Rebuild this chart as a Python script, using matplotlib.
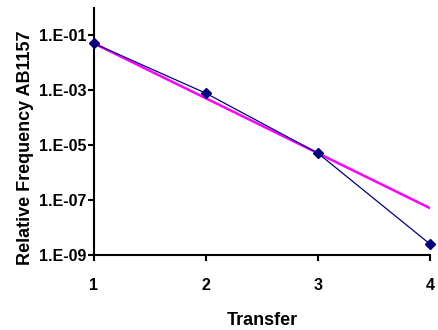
import math
import matplotlib
matplotlib.use("Agg")
import matplotlib.pyplot as plt
from matplotlib.ticker import FixedLocator, FuncFormatter

plt.rcParams['font.family'] = ['Liberation Sans', 'DejaVu Sans']

transfer = [1, 2, 3, 4]
freq = [5.1e-2, 7.8e-4, 5.1e-6, 2.5e-9]
# exponential trendline, end points
trend_x = [1, 4]
trend_y = [5.1e-2, 5.1e-8]
yticks = [1e-9, 1e-7, 1e-5, 1e-3, 1e-1]

fig = plt.figure(figsize=(4.38, 3.30), dpi=100)
ax = fig.add_axes([0.2146, 0.2273, 0.7671, 0.7485])

ax.plot(transfer, freq, color='#000080', lw=0.9, marker='D', ms=5.5,
        mfc='#000080', mec='#000080', zorder=3, clip_on=False)
ax.plot(trend_x, trend_y, color='#FF00FF', lw=1.8, zorder=2)

ax.set_yscale('log')
ax.set_xlim(1, 4)
ax.set_ylim(1e-9, 1e0)
ax.yaxis.set_major_locator(FixedLocator(yticks))
ax.yaxis.set_minor_locator(FixedLocator([]))
ax.yaxis.set_major_formatter(FuncFormatter(lambda v, p: '1.E-%02d' % round(-math.log10(v))))
ax.set_xticks(transfer)

for s in ['top', 'right']:
    ax.spines[s].set_visible(False)
for s in ['left', 'bottom']:
    ax.spines[s].set_linewidth(1.5)
ax.tick_params(axis='both', direction='out', width=1.5, length=4.5, labelsize=11.5)
ax.tick_params(axis='y', pad=1)
ax.tick_params(axis='x', pad=12)
for lab in ax.get_xticklabels() + ax.get_yticklabels():
    lab.set_fontweight('bold')

fig.text(0.6, 0.03, 'Transfer', ha='center', va='center', fontsize=13, fontweight='bold')
fig.text(0.058, 0.553, 'Relative Frequency AB1157', ha='center', va='center',
         rotation=90, fontsize=13, fontweight='bold')

fig.savefig('out.png', dpi=100)
